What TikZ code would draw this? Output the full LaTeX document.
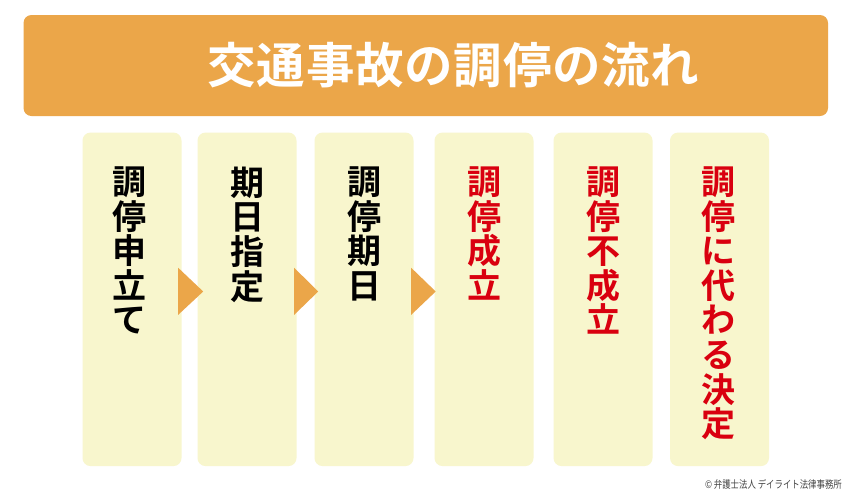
\documentclass[tikz,border=0pt]{standalone}
\usepackage{fontspec}
\setmainfont{Noto Sans CJK JP}
\newfontfamily\jptitle[LetterSpace=1.5]{Noto Sans CJK JP Bold}
\newfontfamily\jpbox{Noto Sans CJK JP Bold}
\newfontfamily\jpreg{Noto Sans CJK JP}
\usetikzlibrary{calc}
\definecolor{hdr}{HTML}{EBA649}
\definecolor{boxfill}{HTML}{F8F6CD}
\definecolor{redtxt}{HTML}{D9000F}
\definecolor{copy}{HTML}{444444}
\tikzset{
  stepbox/.style={fill=boxfill, rounded corners=8pt, minimum width=99pt, minimum height=333.5pt, inner sep=0pt},
  vtext/.style={anchor=north, inner sep=0pt, align=center, font=\jpbox\fontsize{34}{34.6}\selectfont},
  blacktxt/.style={vtext, text=black},
  redvtxt/.style={vtext, text=redtxt},
  tri/.style={fill=hdr},
}
\begin{document}
\begin{tikzpicture}[x=1pt,y=-1pt]
\useasboundingbox (0,0) rectangle (850,496);
\fill[white] (0,0) rectangle (850,496);
% header
\node[fill=hdr, rounded corners=8pt, minimum width=804.5pt, minimum height=101pt, inner sep=0pt] (hdr) at (425.75,65.5) {};
\node[text=white, inner sep=0pt, font=\jptitle\fontsize{48.5}{50}\selectfont] (title) at (453.5,65) {交通事故の調停の流れ};
% boxes
\node[stepbox] (b1) at (132,299.3) {};
\node[stepbox] (b2) at (247,299.3) {};
\node[stepbox] (b3) at (364,299.3) {};
\node[stepbox] (b4) at (484,299.3) {};
\node[stepbox] (b5) at (603,299.3) {};
\node[stepbox] (b6) at (719.5,299.3) {};
% texts
\node[blacktxt] (t1) at (129,166.5) {調\\停\\申\\立\\て};
\node[blacktxt] (t2) at (247,166.5) {期\\日\\指\\定};
\node[blacktxt] (t3) at (364,166.5) {調\\停\\期\\日};
\node[redvtxt] (t4) at (484,166.5) {調\\停\\成\\立};
\node[redvtxt] (t5) at (603,166.5) {調\\停\\不\\成\\立};
\node[redvtxt] (t6) at (718.5,166.5) {調\\停\\に\\代\\わ\\る\\決\\定};
% arrows
\fill[tri] ($(b1.east)+(-3.5,-31.5)$) -- ($(b1.east)+(-3.5,15.5)$) -- ($(b1.east)+(21.5,-7.8)$) -- cycle;
\fill[tri] ($(b2.east)+(-2.5,-31.5)$) -- ($(b2.east)+(-2.5,15.5)$) -- ($(b2.east)+(21.5,-7.8)$) -- cycle;
\fill[tri] ($(b3.east)+(-2.5,-31.5)$) -- ($(b3.east)+(-2.5,15.5)$) -- ($(b3.east)+(22,-7.8)$) -- cycle;
% copyright
\node[anchor=base east, inner sep=0pt, text=copy, font=\jpreg\fontsize{10.5}{12}\selectfont] (cr) at (842,488.5) {\scalebox{0.8}[1]{© 弁護士法人 デイライト法律事務所}};
\end{tikzpicture}
\end{document}
